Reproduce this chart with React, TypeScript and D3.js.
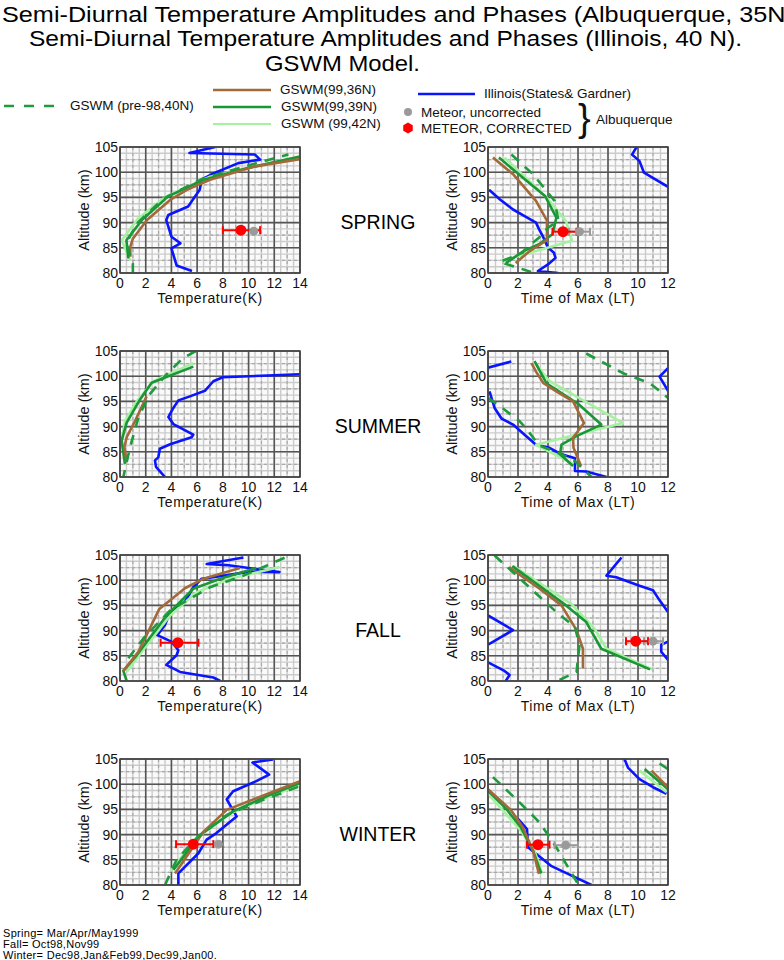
import * as d3 from "d3";

type Pt = [number, number];
type Meteor = { v: number; alt: number; lo: number; hi: number } | null;

const FONT = "'Liberation Sans', Arial, sans-serif";

const seasons = ["SPRING", "SUMMER", "FALL", "WINTER"];
const altTicks = [80, 85, 90, 95, 100, 105];
const tempTicks = [0, 2, 4, 6, 8, 10, 12, 14];
const timeTicks = [0, 2, 4, 6, 8, 10, 12];

const titleLines = [
  "Semi-Diurnal Temperature Amplitudes and Phases (Albuquerque, 35N)",
  "Semi-Diurnal Temperature Amplitudes and Phases (Illinois, 40 N).",
  "GSWM Model.",
];
const footLines = [
  "Spring= Mar/Apr/May1999",
  "Fall= Oct98,Nov99",
  "Winter= Dec98,Jan&Feb99,Dec99,Jan00.",
];

// ---- amplitude (temperature K, altitude km), one entry per season ----
const tempIllinois: Pt[][][] = [
  [[[7.4, 105], [5.4, 103.8], [10.5, 103.5], [10.9, 102.5], [9.2, 101.8], [7.3, 99.8], [6.35, 98.5], [6.2, 96.5], [5.3, 93.2], [3.76, 91.5], [3.6, 90.5], [4.0, 87.2], [4.7, 85.9], [4.0, 84.9], [4.4, 81.5], [5.6, 80.4]]],
  [[[14.2, 100.4], [8.0, 99.8], [7.26, 99], [6.6, 97.1], [5.44, 96.0], [4.54, 95.2], [4.15, 93.7], [3.76, 91.9], [4.15, 90.5], [5.7, 88.4], [5.57, 87.9], [3.9, 86.5], [3.1, 85.6], [2.98, 83.9], [2.72, 83.3], [2.8, 82], [3.5, 80]]],
  [[[9.6, 104.5], [6.74, 103.2], [8.3, 103], [12.4, 101.6], [10.1, 101.7], [7.26, 100.6], [6.35, 100.3], [5.7, 98.6], [5.05, 95.7], [3.9, 93.7], [3.5, 91.1], [2.9, 89.1], [4.0, 87.8], [4.54, 86.1], [4.4, 85.1], [3.6, 83.2], [4.67, 81.8], [7.26, 80.7], [7.8, 80]]],
  [[[11.9, 104.9], [10.3, 104.3], [11.6, 101.9], [10.6, 100.6], [8.8, 98.6], [8.3, 97], [9.07, 93.6], [7.5, 90.3], [6.74, 89], [6.1, 86.3], [5.2, 84], [4.54, 82.3], [4.54, 80]]],
];
const tempGswm36: Pt[][][] = [
  [[[0.8, 83.2], [0.8, 85.2], [1.0, 86.8], [2.1, 90.5], [3.9, 94.5], [5.2, 96.5], [7.0, 98.5], [10.4, 101.1], [14, 102.6]]],
  [[[2.07, 96], [1.17, 91.1], [0.52, 87.9], [0.34, 85.9], [0.52, 83]]],
  [[[0.26, 82.0], [1.43, 85.8], [3.06, 94.3], [5.05, 98.4], [6.5, 100.3], [9.33, 102.4]]],
  [[[4.28, 82.3], [6.5, 90.6], [8.3, 94.9], [10.6, 97.2], [14, 100.6]]],
];
const tempGswm39: Pt[][][] = [
  [[[0.65, 82.9], [0.5, 86.5], [1.7, 90.5], [3.75, 95.2], [6.5, 98.5], [9.85, 100.8], [14, 103.1]]],
  [[[5.7, 101.9], [2.46, 98.7], [1.56, 95.4], [0.52, 90.8], [0.13, 87.2], [0.39, 82.6]]],
  [[[0.52, 80], [0.26, 82], [1.3, 85.1], [3.63, 93], [5.7, 98.3], [7.8, 100.3], [10.6, 102.4]]],
  [[[4.15, 83], [6.2, 89.9], [8.8, 94.6], [11.67, 97.9], [14, 100.2]]],
];
const tempGswm42: Pt[][][] = [
  [[[0.8, 82.5], [0.13, 86.5], [1.4, 90.8], [3.6, 95.2], [7.0, 99.1], [14, 103.1]]],
  [[[5.7, 102.6], [2.6, 99], [1.3, 95], [0.39, 91.1], [0.13, 87.2], [0.39, 82.3]]],
  [[[0.52, 81.8], [1.7, 85.8], [3.9, 93], [5.96, 97.6], [8.55, 100.3], [12.4, 102.6]]],
  [[[3.9, 82.7], [5.96, 89.3], [8.55, 94.2], [11.67, 97.6], [14, 99.9]]],
];
const tempPre98: Pt[][][] = [
  [[[1.0, 80], [1.0, 81.9], [0.5, 85.9], [1.3, 89.8], [3.4, 94.8], [6.5, 98.8], [10.6, 101.8], [13.1, 103.5]]],
  [[[5.9, 105], [4.9, 103.6], [3.6, 100.3], [2.3, 96.4], [1.43, 91.8], [0.78, 85.9], [0.26, 80]]],
  [[[0.65, 84.5], [1.8, 88.4], [3.9, 94], [7.0, 98.6], [9.6, 100.9], [11.4, 102.9], [13.2, 104.9]]],
  [[[3.5, 80], [4.4, 85], [5.96, 89.3], [8.3, 93.9], [11.15, 96.9], [14, 99.6]]],
];
const tempCorrected: Meteor[] = [
  { v: 9.4, alt: 88.5, lo: 8.0, hi: 10.9 },
  null,
  { v: 4.5, alt: 87.6, lo: 3.16, hi: 6.1 },
  { v: 5.7, alt: 88.1, lo: 4.36, hi: 7.26 },
];
const tempUncorrected: Meteor[] = [
  { v: 10.4, alt: 88.3, lo: 10.4, hi: 10.4 },
  null,
  null,
  { v: 7.65, alt: 88.1, lo: 7.65, hi: 7.65 },
];

// ---- phase (time of max LT, altitude km) ----
const phaseIllinois: Pt[][][] = [
  [
    [[9.95, 105.2], [9.6, 103.5], [10.1, 102.2], [10.4, 99.9], [12, 97.1]],
    [[0.07, 96.5], [0.8, 94.6], [1.67, 92.6], [2.44, 91.3], [3.2, 90], [3.4, 88.7], [3.7, 87.0], [4.0, 85.0], [4.4, 84], [4.5, 83], [4.0, 81.7], [3.33, 80.4], [4.67, 80]],
  ],
  [
    [[0, 101.7], [1.55, 102.9]],
    [[12, 101.6], [11.44, 99.9], [12, 97.1]],
    [[0.1, 97], [0.44, 93.7], [0.9, 91.6], [1.67, 90.4], [2.44, 88.4], [3.2, 86.4], [4.1, 85.8], [4.9, 84.5], [5.8, 83.7], [5.8, 81.2], [6.55, 81.1], [7.9, 80]],
  ],
  [
    [[8.9, 104.5], [7.9, 100.9], [8.55, 100.6], [10.1, 98.9], [11.0, 98], [11.44, 96], [12, 93.7]],
    [[12, 87.8], [11.55, 87.2], [11.55, 85.8], [12, 84.2]],
    [[0, 93], [1.67, 90.1], [0, 87.2]],
    [[0, 83.7], [1.1, 82], [1.44, 81.2], [1.18, 80]],
  ],
  [
    [[9.1, 105], [9.33, 103.3], [10.1, 101], [11.0, 99.4], [11.9, 98.1]],
    [[2.0, 93.1], [2.6, 91.1], [2.67, 87.5], [3.2, 86.2], [4.2, 83.8], [5.33, 82.2], [6.9, 80]],
  ],
];
const phaseGswm36: Pt[][][] = [
  [[[0.33, 102.9], [1.67, 99.6], [3.2, 94.3], [3.93, 90.4], [3.93, 86.5], [2.8, 84.4], [1.84, 82]]],
  [[[2.9, 102.6], [3.2, 100.9], [3.7, 98.6], [4.55, 97], [5.67, 95], [6.4, 90.7], [5.67, 87.8], [5.7, 85.8], [6.2, 82.2]]],
  [[[1.4, 102.6], [3.44, 98.3], [4.9, 95], [5.9, 90.1], [6.33, 86.4], [6.33, 82.5]]],
  [
    [[0, 99], [1.55, 94.8], [2.33, 91.4], [3.0, 86.8], [3.4, 82.2]],
    [[10.9, 102.7], [12, 99.4]],
  ],
];
const phaseGswm39: Pt[][][] = [
  [[[0.73, 102.9], [2.33, 98.9], [3.8, 95.3], [4.56, 91], [4.3, 87.7], [3.4, 85.7], [2.4, 84.4], [1.2, 82]]],
  [[[3.1, 103], [3.9, 98.6], [6.1, 94.3], [7.55, 90.4], [5.9, 88.1], [4.9, 86.4], [4.8, 84.5], [5.67, 82.2]]],
  [[[1.62, 102.8], [5.2, 95], [6.55, 91.7], [7.55, 86.4], [10.8, 82.3]]],
  [
    [[0, 98.7], [1.22, 95.1], [2.2, 91.4], [3.0, 86.8], [3.55, 82.3]],
    [[10.44, 103], [12, 99]],
  ],
];
const phaseGswm42: Pt[][][] = [
  [[[1.1, 102.9], [3.9, 95], [5.2, 90.3], [5.6, 86.4], [0.9, 82.4]]],
  [[[3.1, 102.8], [4.1, 99], [9.0, 90.7], [3.2, 86.4], [5.67, 82.6]]],
  [[[1.7, 102.8], [5.55, 95.3], [7.1, 90.4], [7.9, 86.4], [10.95, 82.3]]],
  [
    [[0, 98.1], [1.1, 94.4], [2.1, 91.1], [3.1, 86.8], [3.6, 82.3]],
    [[10.1, 102.7], [11.9, 98.4]],
  ],
];
const phasePre98: Pt[][][] = [
  [[[1.56, 103.5], [3.0, 99.6], [4.44, 94.3], [4.7, 90.3], [4.0, 89], [3.4, 87.0], [2.56, 85.0], [2.3, 84.0], [0.78, 82.2], [3.0, 80.1]]],
  [
    [[6.55, 104.5], [9.0, 100.6], [10.8, 98.6], [12, 95.7]],
    [[0, 95.7], [0.9, 93.8], [2.1, 91.1], [2.55, 89.6], [3.4, 86.3], [5.67, 83.5], [6.9, 80]],
  ],
  [[[0.44, 104.9], [4.55, 93.7], [5.8, 90.7], [6.1, 87.1], [5.9, 81.8], [4.55, 79.9]]],
  [
    [[0.33, 101.4], [2.1, 96.4], [3.44, 92.4], [4.55, 87.5], [6.0, 80.2]],
    [[11.44, 104.1], [12, 103]],
  ],
];
const phaseCorrected: Meteor[] = [
  { v: 5.0, alt: 88.2, lo: 4.3, hi: 5.9 },
  null,
  { v: 9.85, alt: 87.9, lo: 9.2, hi: 10.67 },
  { v: 3.33, alt: 88, lo: 2.6, hi: 4.1 },
];
const phaseUncorrected: Meteor[] = [
  { v: 6.1, alt: 88.2, lo: 5.4, hi: 6.8 },
  null,
  { v: 11.0, alt: 87.9, lo: 10.4, hi: 11.67 },
  { v: 5.18, alt: 87.9, lo: 4.44, hi: 6.0 },
];

const cIll = "#0a14ff";
const c36 = "#a2693a";
const c39 = "#1a9636";
const c42 = "#a4f2a0";
const cPre = "#1f9a3c";
const cRed = "#ff0000";
const cGray = "#9a9a9a";

const panelTops = [147, 351, 555, 759];
const panelH = 126;

function ErrBar({ m, xs, ys, color }: { m: Meteor; xs: any; ys: any; color: string }) {
  if (!m || !(m.hi > m.lo)) return null;
  const y = ys(m.alt);
  return (
    <g stroke={color} strokeWidth={2}>
      <line x1={xs(m.lo)} x2={xs(m.hi)} y1={y} y2={y} />
      <line x1={xs(m.lo)} x2={xs(m.lo)} y1={y - 4} y2={y + 4} />
      <line x1={xs(m.hi)} x2={xs(m.hi)} y1={y - 4} y2={y + 4} />
    </g>
  );
}

function Dot({ m, xs, ys, color, r }: { m: Meteor; xs: any; ys: any; color: string; r: number }) {
  if (!m) return null;
  return <circle cx={xs(m.v)} cy={ys(m.alt)} r={r} fill={color} />;
}

function Panel({
  x0, x1, top, max, ticks, minor, xLabel, idx, illinois, g36, g39, g42, pre, corr, uncorr,
}: {
  x0: number; x1: number; top: number; max: number; ticks: number[]; minor: number;
  xLabel: string; idx: number;
  illinois: Pt[][][]; g36: Pt[][][]; g39: Pt[][][]; g42: Pt[][][]; pre: Pt[][][];
  corr: Meteor[]; uncorr: Meteor[];
}) {
  const xs = d3.scaleLinear().domain([0, max]).range([x0, x1]);
  const ys = d3.scaleLinear().domain([80, 105]).range([top + panelH, top]);
  const line = d3.line<Pt>().x((d) => xs(d[0])).y((d) => ys(d[1]));
  const fineX = d3.range(0, max + 0.001, minor / 4);
  const midX = d3.range(minor / 2, max, minor);
  const fineY = d3.range(80, 105.001, 1.25);
  const midY = d3.range(82.5, 105, 5);
  const clipId = `clip-${idx}-${x0}`;
  const series: [Pt[][][], string, string | undefined][] = [
    [illinois, cIll, undefined],
    [g42, c42, undefined],
    [g39, c39, undefined],
    [g36, c36, undefined],
    [pre, cPre, "10,8"],
  ];
  return (
    <g>
      <defs>
        <clipPath id={clipId}>
          <rect x={x0} y={top} width={x1 - x0} height={panelH} />
        </clipPath>
      </defs>
      <rect x={x0} y={top} width={x1 - x0} height={panelH} fill="#fafafa" />
      {fineX.map((v) => (
        <line key={`fx${v}`} x1={xs(v)} x2={xs(v)} y1={top} y2={top + panelH} stroke="#cbcbcb" strokeWidth={1.4} />
      ))}
      {fineY.map((v) => (
        <line key={`fy${v}`} x1={x0} x2={x1} y1={ys(v)} y2={ys(v)} stroke="#cbcbcb" strokeWidth={1.4} />
      ))}
      {midX.map((v) => (
        <line key={`mx${v}`} x1={xs(v)} x2={xs(v)} y1={top} y2={top + panelH} stroke="#a8a8a8" strokeWidth={1.2} strokeDasharray="3,3" />
      ))}
      {midY.map((v) => (
        <line key={`my${v}`} x1={x0} x2={x1} y1={ys(v)} y2={ys(v)} stroke="#a8a8a8" strokeWidth={1.2} strokeDasharray="3,3" />
      ))}
      {ticks.map((v) => (
        <line key={`Mx${v}`} x1={xs(v)} x2={xs(v)} y1={top} y2={top + panelH} stroke="#555" strokeWidth={1.6} />
      ))}
      {altTicks.map((v) => (
        <line key={`My${v}`} x1={x0} x2={x1} y1={ys(v)} y2={ys(v)} stroke="#555" strokeWidth={1.6} />
      ))}
      <g clipPath={`url(#${clipId})`} fill="none" strokeLinejoin="round">
        {series.map(([s, color, dash], si) =>
          s[idx].map((seg, k) => (
            <path key={`${si}-${k}`} d={line(seg) ?? ""} stroke={color} strokeWidth={2.6} strokeDasharray={dash} />
          ))
        )}
      </g>
      <ErrBar m={uncorr[idx]} xs={xs} ys={ys} color={cGray} />
      <ErrBar m={corr[idx]} xs={xs} ys={ys} color={cRed} />
      <Dot m={uncorr[idx]} xs={xs} ys={ys} color={cGray} r={4.5} />
      <Dot m={corr[idx]} xs={xs} ys={ys} color={cRed} r={5.5} />
      <rect x={x0} y={top} width={x1 - x0} height={panelH} fill="none" stroke="#444" strokeWidth={1.5} />
      <g fontFamily={FONT} fontSize={14} fill="#111">
        {altTicks.map((v) => (
          <text key={`yl${v}`} x={x0 - 2} y={ys(v) + 5} textAnchor="end">{v}</text>
        ))}
        {ticks.map((v) => (
          <text key={`xl${v}`} x={xs(v)} y={top + panelH + 15} textAnchor="middle">{v}</text>
        ))}
        <text x={(x0 + x1) / 2} y={top + panelH + 30} textAnchor="middle" fontSize={14} letterSpacing={0.6}>{xLabel}</text>
        <text transform={`translate(${x0 - 31},${top + panelH / 2}) rotate(-90)`} textAnchor="middle" fontSize={14.5}>
          Altitude (km)
        </text>
      </g>
    </g>
  );
}

function hexPath(cx: number, cy: number, r: number) {
  const pts = d3.range(6).map((i) => {
    const a = (Math.PI / 3) * i + Math.PI / 6;
    return [cx + r * Math.cos(a), cy + r * Math.sin(a)] as [number, number];
  });
  return d3.line()(pts) + "Z";
}

export default function App() {
  return (
    <div style={{ position: "absolute", left: 0, top: 0, background: "#fff" }}>
      <svg width={784} height={960} viewBox="0 0 784 960" style={{ display: "block" }}>
        <rect width={784} height={960} fill="#fff" />
        <g fontFamily={FONT} fill="#000">
          <text x={2} y={22} fontSize={22} textLength={792} lengthAdjust="spacingAndGlyphs">{titleLines[0]}</text>
          <text x={29} y={46} fontSize={22} textLength={713} lengthAdjust="spacingAndGlyphs">{titleLines[1]}</text>
          <text x={265} y={71} fontSize={22} textLength={155} lengthAdjust="spacingAndGlyphs">{titleLines[2]}</text>
        </g>

        {/* legend */}
        <g fontFamily={FONT} fontSize={13.5} fill="#111">
          <line x1={4} x2={56} y1={106} y2={106} stroke={cPre} strokeWidth={2.6} strokeDasharray="10,10" />
          <text x={70} y={110}>GSWM (pre-98,40N)</text>
          <line x1={213} x2={271} y1={90} y2={90} stroke={c36} strokeWidth={2.4} />
          <text x={280} y={94}>GSWM(99,36N)</text>
          <line x1={213} x2={271} y1={107} y2={107} stroke={c39} strokeWidth={2.6} />
          <text x={281} y={111}>GSWM(99,39N)</text>
          <line x1={213} x2={271} y1={124} y2={124} stroke={c42} strokeWidth={2.2} />
          <text x={281} y={128}>GSWM (99,42N)</text>
          <line x1={418} x2={475} y1={94} y2={94} stroke={cIll} strokeWidth={2.4} />
          <text x={484} y={98}>Illinois(States&amp; Gardner)</text>
          <circle cx={408} cy={112} r={4} fill={cGray} />
          <text x={421} y={117}>Meteor, uncorrected</text>
          <path d={hexPath(408, 128, 5.5)} fill={cRed} />
          <text x={421} y={133}>METEOR, CORRECTED</text>
          <text x={578} y={131} fontSize={38} fontWeight={300}>{"}"}</text>
          <text x={596} y={124}>Albuquerque</text>
        </g>

        {seasons.map((s, i) => (
          <g key={s}>
            <Panel
              x0={120} x1={300} top={panelTops[i]} max={14} ticks={tempTicks} minor={2}
              xLabel="Temperature(K)" idx={i}
              illinois={tempIllinois} g36={tempGswm36} g39={tempGswm39} g42={tempGswm42} pre={tempPre98}
              corr={tempCorrected} uncorr={tempUncorrected}
            />
            <Panel
              x0={488} x1={668} top={panelTops[i]} max={12} ticks={timeTicks} minor={2}
              xLabel="Time of Max (LT)" idx={i}
              illinois={phaseIllinois} g36={phaseGswm36} g39={phaseGswm39} g42={phaseGswm42} pre={phasePre98}
              corr={phaseCorrected} uncorr={phaseUncorrected}
            />
            <text x={378} y={panelTops[i] + 82} textAnchor="middle" fontFamily={FONT} fontSize={19.5} fill="#000">
              {s}
            </text>
          </g>
        ))}

        <g fontFamily={FONT} fontSize={11} fill="#000">
          {footLines.map((t, i) => (
            <text key={t} x={3} y={937 + i * 11} letterSpacing={0.3}>{t}</text>
          ))}
        </g>
      </svg>
    </div>
  );
}
